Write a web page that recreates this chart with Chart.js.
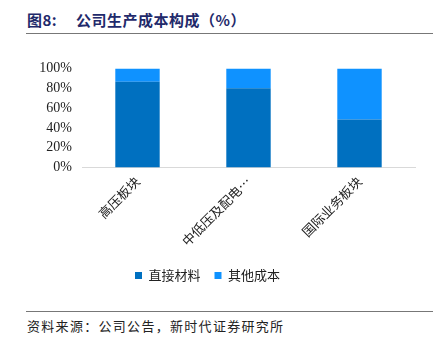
<!DOCTYPE html>
<html>
<head>
<meta charset="utf-8">
<script src="https://cdn.jsdelivr.net/npm/chart.js@4"></script>
<style>
  html, body { margin: 0; padding: 0; background: #fff; }
  body { width: 443px; height: 340px; position: relative; overflow: hidden; }
  .title {
    position: absolute; top: 9px;
    font: bold 15px "Noto Sans CJK SC", sans-serif; color: #1f2a6b;
    white-space: pre; letter-spacing: 0.5px;
  }
  .rule { position: absolute; left: 26px; width: 407px; height: 1px; background: #777; }
  .src {
    position: absolute; left: 27px; top: 316px;
    font: 13px "Noto Sans CJK SC", sans-serif; color: #222; letter-spacing: 1.3px;
  }
  #wrap { position: absolute; left: 0; top: 50px; width: 443px; height: 242px; }
</style>
</head>
<body>
<div class="title" style="left:27px">图8:</div>
<div class="title" style="left:76px">公司生产成本构成（%）</div>
<div class="rule" style="top:33px"></div>
<div id="wrap"><canvas id="chart-cost"></canvas></div>
<div class="rule" style="top:311px"></div>
<div class="src">资料来源：公司公告，新时代证券研究所</div>

<script>
const categories = ["高压板块", "中低压及配电…", "国际业务板块"];
const materials  = [86.5, 80, 48.5];
const otherCost  = [13.5, 20, 51.5];

const COLORS = {
  materials: "#0070c0",
  other:     "#0f92ff",
};

new Chart(document.getElementById("chart-cost"), {
  type: "bar",
  data: {
    labels: categories,
    datasets: [
      { label: "直接材料", data: materials, backgroundColor: COLORS.materials, barPercentage: 0.8, categoryPercentage: 0.5 },
      { label: "其他成本", data: otherCost, backgroundColor: COLORS.other,     barPercentage: 0.8, categoryPercentage: 0.5 },
    ],
  },
  options: {
    responsive: true,
    maintainAspectRatio: false,
    animation: false,
    layout: { padding: { left: 0, right: 28, top: 14, bottom: 0 } },
    plugins: {
      tooltip: { enabled: false },
      legend: {
        position: "bottom",
        labels: {
          color: "#222",
          boxWidth: 7,
          boxHeight: 7,
          padding: 14,
          font: { family: "Noto Sans CJK SC", size: 13 },
        },
      },
    },
    scales: {
      x: {
        stacked: true,
        grid: { display: false, drawTicks: false },
        border: { display: true, color: "#d9d9d9", width: 1 },
        ticks: {
          color: "#222",
          maxRotation: 45,
          minRotation: 45,
          padding: 6,
          font: { family: "Noto Sans CJK SC", size: 13 },
        },
      },
      y: {
        stacked: true,
        min: 0,
        max: 100,
        afterFit: s => { s.width = 82; },
        grid: { display: false, drawTicks: false },
        border: { display: false },
        ticks: {
          stepSize: 20,
          padding: 10,
          color: "#222",
          font: { family: "Liberation Serif", size: 14 },
          callback: v => v + "%",
        },
      },
    },
  },
});
</script>
</body>
</html>
